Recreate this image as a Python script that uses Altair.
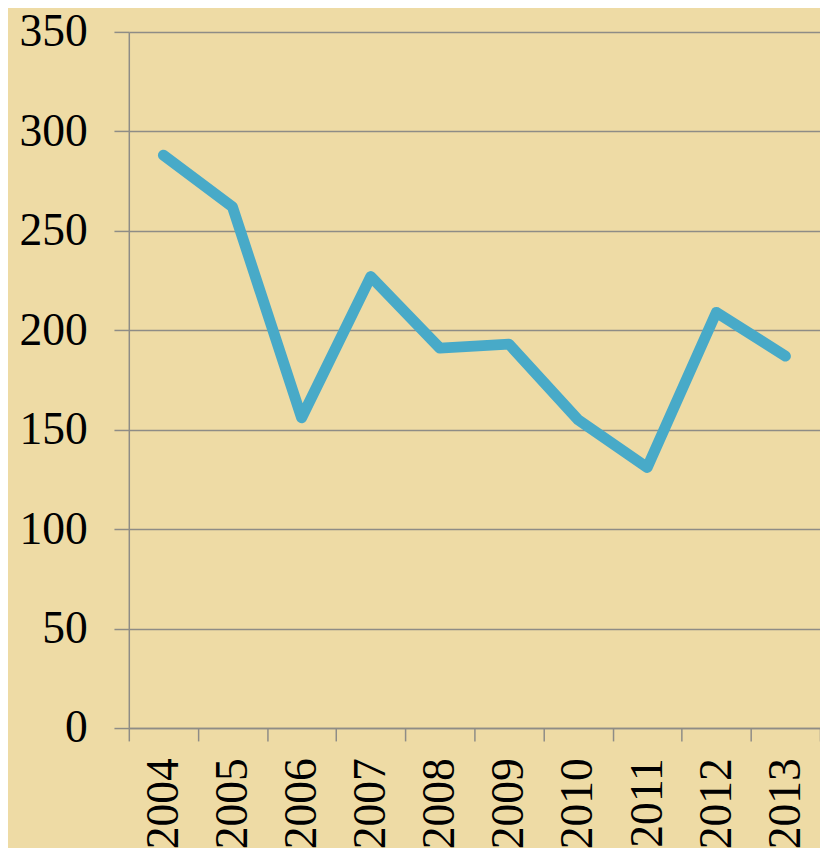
import altair as alt
import pandas as pd

years = ["2004", "2005", "2006", "2007", "2008", "2009", "2010", "2011", "2012", "2013"]
values = [288, 262, 156, 227, 191, 193, 155, 131, 209, 187]
y_ticks = [0, 50, 100, 150, 200, 250, 300, 350]

df = pd.DataFrame({"year": years, "value": values})

FONT = "'Liberation Serif', 'Times New Roman', 'DejaVu Serif', serif"
GRAY = "#8E8C86"

chart = (
    alt.Chart(df)
    .mark_line(color="#48AAC8", strokeWidth=11, strokeCap="round", strokeJoin="round")
    .encode(
        x=alt.X(
            "year:N",
            sort=None,
            bandPosition=0.5,
            scale=alt.Scale(type="band", paddingInner=0, paddingOuter=0),
            axis=alt.Axis(
                title=None,
                grid=False,
                tickBand="extent",
                labelAngle=-90,
                labelAlign="right",
                labelBaseline="middle",
                labelFont=FONT,
                labelFontSize=46,
                labelColor="#000000",
                labelPadding=17,
                tickSize=13,
                tickColor=GRAY,
                tickWidth=1.5,
                domainColor=GRAY,
                domainWidth=1.5,
            ),
        ),
        y=alt.Y(
            "value:Q",
            scale=alt.Scale(domain=[0, 350], nice=False, zero=True),
            axis=alt.Axis(
                title=None,
                values=y_ticks,
                grid=True,
                gridColor=GRAY,
                gridWidth=1.5,
                labelFont=FONT,
                labelFontSize=46,
                labelColor="#000000",
                labelPadding=27,
                tickSize=15,
                tickColor=GRAY,
                tickWidth=1.5,
                domainColor=GRAY,
                domainWidth=1.5,
            ),
        ),
    )
    .properties(
        width=698,
        height=703,
        autosize=alt.AutoSizeParams(type="none"),
        padding={"left": 122, "top": 20, "right": 0, "bottom": 117},
        background="#EEDBA5",
    )
    .configure_view(stroke=None)
)

chart.save("out.html", embed_options={"renderer": "svg", "actions": False})
